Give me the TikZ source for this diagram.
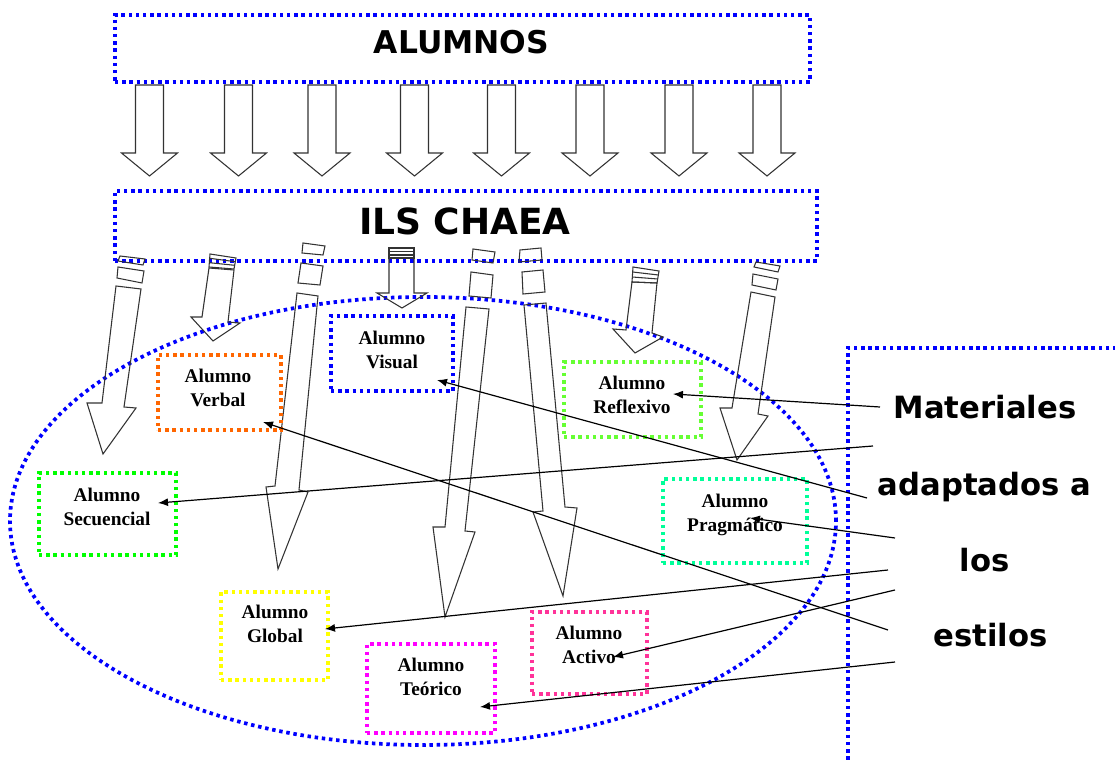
\documentclass[tikz,border=0pt]{standalone}
\usepackage{fontspec}
\newfontfamily\hfont{DejaVu Sans}
\newfontfamily\lfont{Liberation Serif}
\usetikzlibrary{shapes.geometric,arrows.meta}
\definecolor{cblue}{RGB}{0,0,255}
\definecolor{corange}{RGB}{255,102,0}
\definecolor{clgreen}{RGB}{102,255,51}
\definecolor{cgreen}{RGB}{0,255,0}
\definecolor{caqua}{RGB}{0,255,153}
\definecolor{cyellow}{RGB}{255,255,0}
\definecolor{cmagenta}{RGB}{255,0,255}
\definecolor{cpink}{RGB}{255,51,153}
\tikzset{
  dotbox/.style={draw=#1, line width=2.8pt, dash pattern=on 2.6pt off 2.8pt, inner sep=0pt, outer sep=0pt},
  blk/.style={draw=black!80, line width=0.8pt, line join=miter},
  conn/.style={draw=black, line width=0.9pt, -{Latex[length=7.5pt,width=6pt]}},
  lbl/.style={font=\lfont\bfseries\fontsize{14.5pt}{17.6pt}\selectfont, inner sep=0pt, anchor=base},
  head/.style={font=\hfont\bfseries\fontsize{#1}{#1}\selectfont, inner sep=0pt, anchor=base},
}
\newcommand{\twolines}[2]{\begin{tabular}[t]{@{}c@{}}#1\\#2\end{tabular}}
\begin{document}
\begin{tikzpicture}[x=0.75pt,y=-0.75pt]
\useasboundingbox (0,0) rectangle (1115,762);
\fill[white] (0,0) rectangle (1115,762);

% top boxes
\node[dotbox=cblue, minimum width=521.25pt, minimum height=50.25pt] (alumnos) at (462.5,48.5) {};
\node[head=23.5pt] (alumnosT) at (461.5,54) {ALUMNOS};
\node[dotbox=cblue, minimum width=526.5pt, minimum height=52.5pt] (ils) at (466,226) {};
\node[head=27pt] (ilsT) at (465,235) {ILS CHAEA};

% top block arrows
\foreach \c in {149.5,238.5,322,414.5,501.5,590,679,767}{
  \draw[blk] (\c-14,85) -- (\c-14,153) -- (\c-28,153) -- (\c,176) -- (\c+28,153) -- (\c+14,153) -- (\c+14,85) -- cycle;
}

% ellipse
\node[dotbox=cblue, ellipse, minimum width=619.5pt, minimum height=336pt] (ell) at (423,521) {};

% right box
\node[dotbox=cblue, anchor=north west, minimum width=230pt, minimum height=330pt] (matbox) at (848,348) {};

% lower block arrows
% arrow 1
\draw[blk] (120,256) -- (145,259) -- (143,265) -- (118,261) -- cycle;
\draw[blk] (118,267) -- (144,271) -- (142,283) -- (117,278) -- cycle;
\draw[blk] (116,286) -- (102,403) -- (87,403) -- (103,454) -- (136,408) -- (124,407) -- (141,289) -- cycle;
% arrow 2
\draw[blk] (210,254) -- (236,258) -- (234,269) -- (209,267) -- cycle;
\draw[blk] (209.7,258.3) -- (235.3,261.7) (209.3,262.7) -- (234.7,265.3);
\draw[blk] (209,268) -- (202,317) -- (191,317) -- (213,341) -- (240,323) -- (228,322) -- (234,270) -- cycle;
% arrow 3
\draw[blk] (303,243) -- (325,246) -- (323,255) -- (302,253) -- cycle;
\draw[blk] (301,263) -- (323,266) -- (320,285) -- (298,283) -- cycle;
\draw[blk] (297,293) -- (275,486) -- (266,487) -- (278,569) -- (308,492) -- (299,490) -- (318,296) -- cycle;
% arrow 4
\draw[blk] (389,248) rectangle (414,258);
\draw[blk] (389,251.5) -- (414,251.5) (389,255) -- (414,255);
\draw[blk] (389,258) -- (389,293) -- (377,293) -- (402,308) -- (427,293) -- (414,293) -- (414,258) -- cycle;
% arrow 5
\draw[blk] (473,249) -- (495,252) -- (493,263) -- (472,260) -- cycle;
\draw[blk] (471,272) -- (493,275) -- (491,298) -- (469,296) -- cycle;
\draw[blk] (466,307) -- (445,527) -- (433,527) -- (445,617) -- (475,532) -- (465,531) -- (489,309) -- cycle;
% arrow 6
\draw[blk] (520,250) -- (541,248) -- (542,260) -- (519,262) -- cycle;
\draw[blk] (522,272) -- (543,270) -- (545,292) -- (523,294) -- cycle;
\draw[blk] (524,305) -- (543,511) -- (533,512) -- (563,596) -- (577,508) -- (565,507) -- (546,303) -- cycle;
% arrow 7
\draw[blk] (633,267) -- (659,271) -- (657,283) -- (632,282) -- cycle;
\draw[blk] (632.7,272) -- (658.3,275) (632.3,277) -- (657.7,279);
\draw[blk] (632,282) -- (626,330) -- (613,329) -- (635,353) -- (663,337) -- (652,333) -- (657,283) -- cycle;
% arrow 8
\draw[blk] (756,262) -- (780,266) -- (778,272) -- (754,267) -- cycle;
\draw[blk] (753,274) -- (778,279) -- (776,290) -- (752,285) -- cycle;
\draw[blk] (751,292) -- (732,408) -- (720,408) -- (737,460) -- (768,416) -- (758,414) -- (775,297) -- cycle;

% student boxes
\node[dotbox=cblue, minimum width=91.5pt, minimum height=56.25pt] (visual) at (392,353.5) {};
\node[lbl] (visualT) at (392,345) {\twolines{Alumno}{Visual}};
\node[dotbox=corange, minimum width=92.25pt, minimum height=56.25pt] (verbal) at (219.5,392.5) {};
\node[lbl] (verbalT) at (218,383) {\twolines{Alumno}{Verbal}};
\node[dotbox=clgreen, minimum width=102.75pt, minimum height=56.25pt] (reflexivo) at (632.5,399.5) {};
\node[lbl] (reflexivoT) at (632,390) {\twolines{Alumno}{Reflexivo}};
\node[dotbox=cgreen, minimum width=102.75pt, minimum height=61.5pt] (secuencial) at (107.5,514) {};
\node[lbl] (secuencialT) at (107,502) {\twolines{Alumno}{Secuencial}};
\node[dotbox=caqua, minimum width=108pt, minimum height=63pt] (pragmatico) at (735,521) {};
\node[lbl] (pragmaticoT) at (735,508) {\twolines{Alumno}{Pragmático}};
\node[dotbox=cyellow, minimum width=80.25pt, minimum height=66pt] (global) at (274.5,636) {};
\node[lbl] (globalT) at (275,619) {\twolines{Alumno}{Global}};
\node[dotbox=cmagenta, minimum width=96pt, minimum height=66.75pt] (teorico) at (431,688.5) {};
\node[lbl] (teoricoT) at (431,672) {\twolines{Alumno}{Teórico}};
\node[dotbox=cpink, minimum width=86.25pt, minimum height=61.5pt] (activo) at (589.5,653) {};
\node[lbl] (activoT) at (589,640) {\twolines{Alumno}{Activo}};

% right text
\node[head=23pt] (m1) at (985,419) {Materiales};
\node[head=23pt] (m2) at (984.5,496) {adaptados a};
\node[head=23pt] (m3) at (984.5,572) {los};
\node[head=23pt] (m4) at (990.5,647) {estilos};

% connector coordinates
\coordinate (s1) at (880,407);  \coordinate (tReflexivo) at (673,394);
\coordinate (s2) at (873,446);  \coordinate (tSecuencial) at (158,503);
\coordinate (s3) at (867,498);  \coordinate (tVisual) at (437,380);
\coordinate (s4) at (895,538);  \coordinate (tPragmatico) at (750,518);
\coordinate (s5) at (888,570);  \coordinate (tGlobal) at (325,629);
\coordinate (s6) at (895,590);  \coordinate (tActivo) at (613,657);
\coordinate (s7) at (888,630);  \coordinate (tVerbal) at (263,422);
\coordinate (s8) at (895,662);  \coordinate (tTeorico) at (480,707);

\draw[conn] (s1) -- (tReflexivo);
\draw[conn] (s2) -- (tSecuencial);
\draw[conn] (s3) -- (tVisual);
\draw[conn] (s4) -- (tPragmatico);
\draw[conn] (s5) -- (tGlobal);
\draw[conn] (s6) -- (tActivo);
\draw[conn] (s7) -- (tVerbal);
\draw[conn] (s8) -- (tTeorico);
\end{tikzpicture}
\end{document}
